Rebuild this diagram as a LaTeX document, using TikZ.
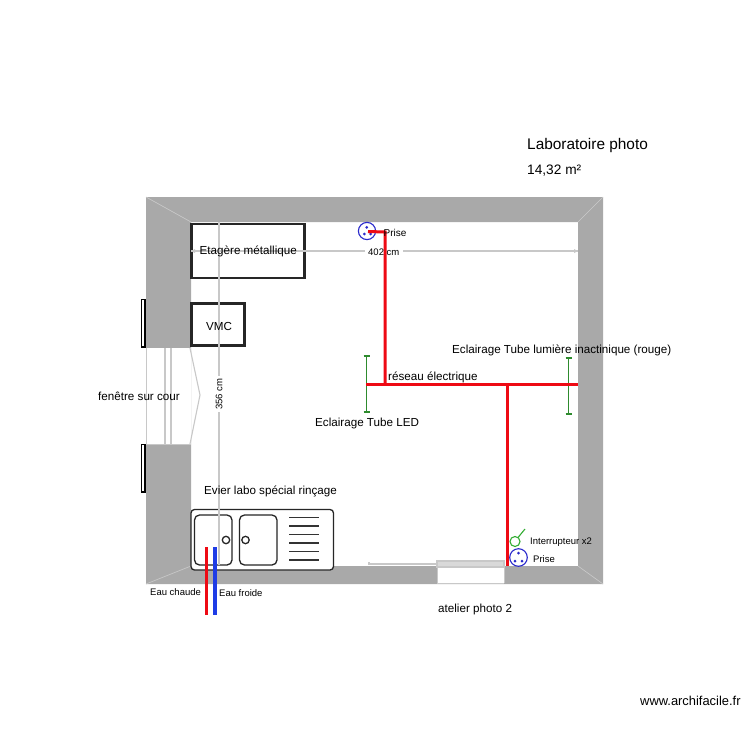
\documentclass[tikz,border=0pt]{standalone}
\usepackage{fontspec}
\setmainfont{Liberation Sans}
\definecolor{wallc}{HTML}{A9A9A9}
\definecolor{dimc}{HTML}{C8C8C8}
\definecolor{redw}{HTML}{EE0A14}
\definecolor{bluew}{HTML}{1E3CE6}
\definecolor{greenl}{HTML}{2E8B2E}
\definecolor{sockc}{HTML}{2A2ACC}
\tikzset{
  lbl/.style={inner sep=0pt,anchor=west,font=\fontsize{#1}{#1}\selectfont,text=black},
  furn/.style={draw=black!85,line width=2.2pt,fill=white,inner sep=0pt,outer sep=0pt,anchor=north west},
  sinkl/.style={draw=black!85,line width=1.3pt},
  dimline/.style={draw=dimc,line width=2pt},
  cable/.style={draw=redw,line width=3pt},
  tube/.style={draw=greenl,line width=1.1pt},
  sock/.style={draw=sockc,line width=1.1pt,fill=white},
  sockdot/.style={fill=sockc,draw=none},
  cornerl/.style={draw=white!40!wallc,line width=0.6pt}
}
\begin{document}
\begin{tikzpicture}[x=1pt,y=-1pt]
\useasboundingbox (0,0) rectangle (750,750);
\fill[white] (0,0) rectangle (750,750);
% walls
\fill[wallc,even odd rule] (146,197) rectangle (603,584) (191,222) rectangle (578,566);
% corners
\draw[cornerl] (146,197)--(191,222);
\draw[cornerl] (603,197)--(578,222);
\draw[cornerl] (146,584)--(191,566);
\draw[cornerl] (603,584)--(578,566);
% window
\fill[white] (146,348) rectangle (191,444);
\draw[dimc,line width=1.7pt] (146.5,348)--(146.5,444);
\draw[dimc,line width=1.7pt] (165,348)--(165,444);
\draw[dimc,line width=1.7pt] (171,348)--(171,444);
\draw[dimc,line width=1pt] (146,444)--(191,444);
\draw[dimc,line width=1.1pt] (190,348)--(200,395)--(190,444);
\draw[black,line width=1.1pt,fill=white] (141.5,299.5) rectangle (145,347);
\draw[black,line width=1.1pt,fill=white] (141.5,444.5) rectangle (145,492);
% door
\fill[white] (437,566) rectangle (504,583);
\draw[dimc,line width=1.3pt,fill=black!15] (437,561) rectangle (504,567);
\draw[dimc,line width=1.6pt] (369,562)--(369,564)--(437,564);
\draw[dimc,line width=1pt] (437,567)--(437,583) (504,567)--(504,583) (437,583.5)--(504,583.5);
% furniture
\node[furn,minimum width=113pt,minimum height=54pt] (etagere) at (191.5,224) {};
\node[furn,minimum width=53pt,minimum height=42pt] (vmc) at (191.5,303.5) {};
% sink
\draw[sinkl,fill=white,rounded corners=3.5pt] (191,509.5) rectangle (333.5,570);
\draw[sinkl,rounded corners=5pt] (194.5,515) rectangle (232,565);
\draw[sinkl,rounded corners=5pt] (239.5,515) rectangle (277,565);
\draw[sinkl] (226,540) circle (3.7);
\draw[sinkl] (245.5,540) circle (3.7);
\foreach \yy in {517.5,526,534.5,543,551.5,560}{\draw[black!80,line width=1.3pt] (289,\yy)--(319,\yy);}
% dimensions
\draw[dimline] (191,251)--(365,251);
\draw[dimline] (403,251)--(578,251);
\draw[dimline] (218.5,222)--(218.5,376);
\draw[dimline] (218.5,412)--(218.5,565);
\fill[dimc] (191,251)--(195,249)--(195,253)--cycle;
\fill[dimc] (578,251)--(574,249)--(574,253)--cycle;
% sockets and switch
\draw[sock] (367,231) circle (8.6);
\fill[sockdot] (366.7,227.3) circle (1.5);
\fill[sockdot] (364.3,234) circle (1.5);
\fill[sockdot] (370.7,234) circle (1.5);
\draw[sock] (518.5,557.5) circle (8.8);
\fill[sockdot] (518.5,553) circle (1.5);
\fill[sockdot] (515,561) circle (1.5);
\fill[sockdot] (522,561) circle (1.5);
\draw[draw=green!60!black!80,line width=1.1pt] (515,541.5) circle (5);
\draw[draw=green!60!black!80,line width=1.1pt] (518,537.5)--(525,529);
% tubes
\draw[tube] (366.5,356)--(366.5,412) (363.5,356)--(369.5,356) (363.5,412)--(369.5,412);
\draw[tube] (568.5,358)--(568.5,414) (565.5,358)--(571.5,358) (565.5,414)--(571.5,414);
% cables
\draw[cable] (368,231.5)--(385,232)--(385,384);
\draw[cable] (366,384)--(578,384);
\draw[cable] (507.5,384)--(507.5,566);
\draw[draw=redw,line width=3.2pt] (206.5,547)--(206.5,615);
\draw[draw=bluew,line width=3.2pt] (215,547)--(215,615);
% texts
\node[lbl=11.65] (tetagere) at (199.5,251) {Etagère métallique};
\node[lbl=11.65] (tvmc) at (206,326) {VMC};
\node[lbl=10] (tprise) at (383.5,233) {Prise};
\node[lbl=9.5] (t402) at (368,252) {402 cm};
\node[lbl=9.5,rotate=90,anchor=center] (t356) at (219,394) {356 cm};
\node[lbl=11.65] (tfen) at (98,396) {fenêtre sur cour};
\node[lbl=11.65] (treseau) at (388,377) {réseau électrique};
\node[lbl=11.65] (tinact) at (452,350) {Eclairage Tube lumière inactinique (rouge)};
\node[lbl=11.65] (tled) at (315,423) {Eclairage Tube LED};
\node[lbl=11.65] (tevier) at (204,491) {Evier labo spécial rinçage};
\node[lbl=9.5] (tchaude) at (150,592) {Eau chaude};
\node[lbl=9.5] (tfroide) at (219,593) {Eau froide};
\node[lbl=9.5] (tinter) at (530,542.5) {Interrupteur x2};
\node[lbl=9.5] (tprise2) at (533,559) {Prise};
\node[lbl=11.65] (tatelier) at (438,609) {atelier photo 2};
\node[lbl=15.4] (ttitle) at (527,145.5) {Laboratoire photo};
\node[lbl=13.7] (tarea) at (527,171) {14,32 m²};
\node[lbl=12.9] (twww) at (640,701) {www.archifacile.fr};
\end{tikzpicture}
\end{document}
